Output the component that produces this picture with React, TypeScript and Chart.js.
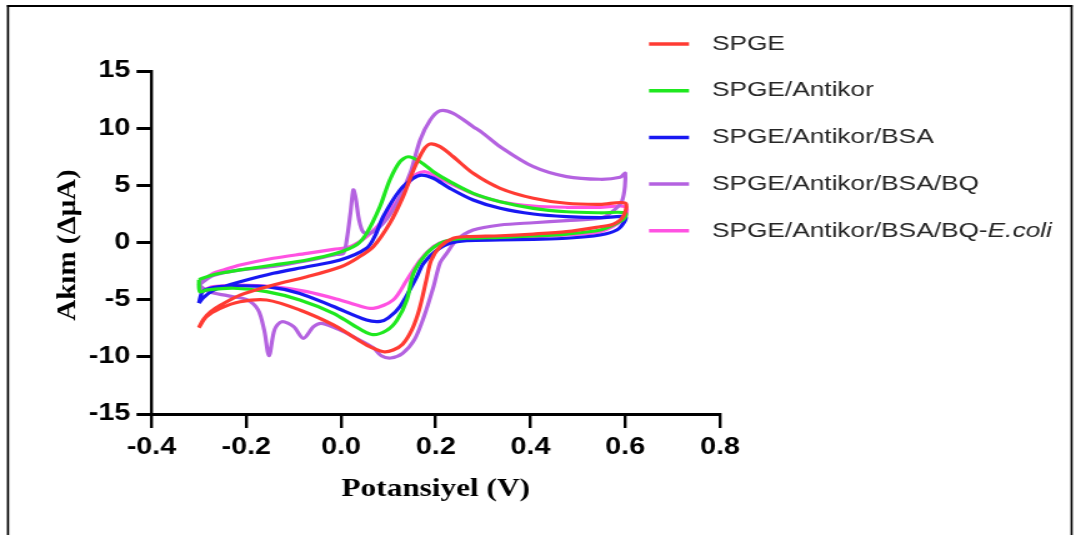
import { useEffect, useRef } from "react";
import { Chart, registerables } from "chart.js";

Chart.register(...registerables);

// Series labels and colours (legend order)
const seriesNames = [
  "SPGE",
  "SPGE/Antikor",
  "SPGE/Antikor/BSA",
  "SPGE/Antikor/BSA/BQ",
  "SPGE/Antikor/BSA/BQ-E.coli",
];
const seriesColors = ["#ff3b33", "#1fe81f", "#1818f2", "#b462e0", "#ff52e2"];

// Axis ticks
const xTicks = [-0.4, -0.2, 0.0, 0.2, 0.4, 0.6, 0.8];
const yTicks = [-15, -10, -5, 0, 5, 10, 15];

// Cyclic voltammograms: potential (V) and current (µA), forward scan then reverse scan
const spgeV = [-0.300, -0.290, -0.275, -0.255, -0.213, -0.143, -0.072, 0.000, 0.035, 0.068, 0.103, 0.131, 0.153, 0.174, 0.188, 0.209, 0.237, 0.279, 0.336, 0.406, 0.476, 0.547, 0.600,
  0.596, 0.575, 0.547, 0.476, 0.406, 0.336, 0.265, 0.237, 0.209, 0.190, 0.180, 0.165, 0.150, 0.130, 0.110, 0.090, 0.054, 0.020, -0.016, -0.087, -0.157, -0.213, -0.255, -0.284, -0.300];
const spgeI = [-7.45, -6.70, -6.05, -5.50, -4.60, -3.72, -3.00, -2.12, -1.35, -0.37, 1.68, 4.01, 6.34, 8.09, 8.62, 8.38, 7.50, 6.05, 4.74, 3.87, 3.43, 3.34, 3.45,
  2.30, 1.60, 1.38, 0.95, 0.74, 0.59, 0.51, 0.37, -0.37, -1.60, -3.30, -5.90, -7.60, -8.90, -9.40, -9.55, -8.97, -8.10, -7.20, -5.90, -5.03, -5.18, -5.76, -6.49, -7.45];

const antikorV = [-0.300, -0.280, -0.250, -0.213, -0.143, -0.072, -0.010, 0.033, 0.054, 0.082, 0.103, 0.1245, 0.142, 0.167, 0.195, 0.230, 0.279, 0.336, 0.406, 0.476, 0.547, 0.600,
  0.598, 0.582, 0.547, 0.476, 0.406, 0.336, 0.265, 0.230, 0.209, 0.181, 0.153, 0.139, 0.118, 0.096, 0.065, 0.025, -0.016, -0.087, -0.157, -0.227, -0.283, -0.298, -0.300];
const antikorI = [-3.25, -2.95, -2.65, -2.40, -1.97, -1.53, -0.95, -0.20, 0.80, 3.13, 5.47, 7.07, 7.50, 7.07, 6.19, 5.32, 4.30, 3.57, 2.99, 2.69, 2.60, 2.60,
  2.10, 1.68, 1.09, 0.74, 0.57, 0.45, 0.37, 0.22, -0.07, -0.95, -2.69, -5.03, -6.80, -7.70, -8.05, -7.20, -6.19, -5.03, -4.30, -4.00, -4.15, -4.30, -3.25];

const bsaV = [-0.300, -0.290, -0.270, -0.248, -0.213, -0.143, -0.072, -0.002, 0.054, 0.072, 0.089, 0.1245, 0.1526, 0.170, 0.195, 0.230, 0.279, 0.336, 0.406, 0.476, 0.547, 0.600,
  0.598, 0.582, 0.547, 0.476, 0.406, 0.336, 0.265, 0.230, 0.202, 0.174, 0.160, 0.1245, 0.100, 0.083, 0.054, -0.016, -0.087, -0.157, -0.227, -0.270, -0.292, -0.300];
const bsaI = [-5.30, -4.80, -4.20, -3.86, -3.43, -2.69, -2.12, -1.53, -0.50, 0.60, 2.26, 4.59, 5.62, 5.90, 5.62, 4.74, 3.72, 2.99, 2.49, 2.26, 2.17, 2.26,
  1.80, 1.09, 0.66, 0.37, 0.28, 0.22, 0.16, -0.07, -0.66, -1.82, -3.00, -5.60, -6.60, -6.90, -6.78, -5.60, -4.45, -3.86, -3.80, -3.95, -4.30, -5.30];

const bqV = [-0.300, -0.270, -0.213, -0.143, -0.072, -0.010, 0.005, 0.012, 0.020, 0.026, 0.031, 0.038, 0.047, 0.061, 0.089, 0.1175, 0.146, 0.167, 0.188, 0.209, 0.237, 0.279, 0.300, 0.336, 0.406, 0.476, 0.547, 0.589, 0.600,
  0.593, 0.568, 0.547, 0.476, 0.406, 0.336, 0.279, 0.244, 0.223, 0.209, 0.195, 0.175, 0.155, 0.130, 0.105, 0.085, 0.068, 0.033, -0.005, -0.041, -0.058, -0.0795, -0.100, -0.125, -0.140, -0.152, -0.162, -0.175, -0.199, -0.240, -0.280, -0.300];
const bqI = [-3.70, -2.90, -2.40, -2.10, -1.60, -1.05, -0.95, 0.20, 2.60, 4.60, 3.90, 2.00, 0.90, 0.80, 1.68, 3.43, 6.05, 8.97, 10.70, 11.53, 11.30, 10.13, 9.55, 8.38, 6.63, 5.76, 5.53, 5.70, 6.05,
  3.60, 2.55, 2.12, 1.91, 1.73, 1.53, 1.09, 0.22, -0.95, -1.80, -3.90, -6.50, -8.50, -9.70, -10.10, -9.90, -9.20, -8.40, -7.60, -7.07, -7.36, -8.38, -7.36, -6.93, -7.60, -9.90, -7.70, -5.90, -5.00, -4.65, -4.30, -3.70];

const ecoliV = [-0.300, -0.270, -0.248, -0.213, -0.143, -0.072, -0.016, 0.019, 0.054, 0.089, 0.1245, 0.1526, 0.174, 0.195, 0.237, 0.286, 0.336, 0.406, 0.476, 0.547, 0.600,
  0.598, 0.547, 0.476, 0.406, 0.336, 0.265, 0.216, 0.195, 0.167, 0.139, 0.110, 0.068, 0.033, -0.002, -0.072, -0.143, -0.213, -0.270, -0.294, -0.300];
const ecoliI = [-3.60, -2.70, -2.40, -1.97, -1.38, -0.95, -0.60, -0.37, 0.51, 1.97, 4.00, 5.76, 6.19, 5.90, 5.03, 4.15, 3.57, 3.19, 3.08, 3.08, 3.13,
  2.10, 0.94, 0.66, 0.51, 0.42, 0.31, 0.07, -0.37, -1.53, -3.28, -5.03, -5.76, -5.47, -5.03, -4.30, -3.86, -3.72, -3.86, -4.15, -3.60];

const potentials = [spgeV, antikorV, bsaV, bqV, ecoliV];
const currents = [spgeI, antikorI, bsaI, bqI, ecoliI];

// Canvas geometry: drawn narrower and widened by CSS (the figure is horizontally stretched)
const OUT_W = 1081;
const OUT_H = 535;
const CW = 865;
const SX = OUT_W / CW;
const PLOT_LEFT = 151.5 / SX;
const PLOT_RIGHT = 720 / SX;
const PLOT_TOP = 71;
const PLOT_BOTTOM = 414;
const Y_AXIS_W = 100;
const X_AXIS_H = 100;

const SANS = "'Liberation Sans', Arial, Helvetica, sans-serif";
const SERIF = "'Liberation Serif', 'Times New Roman', Times, serif";

const framePlugin = {
  id: "figureFrame",
  beforeDraw(chart: any) {
    const ctx = chart.ctx as CanvasRenderingContext2D;
    ctx.save();
    ctx.strokeStyle = "#000";
    ctx.lineWidth = 2;
    ctx.beginPath();
    ctx.moveTo(7 / SX, 6);
    ctx.lineTo(1072.5 / SX, 6);
    ctx.stroke();
    ctx.lineWidth = 1.7;
    ctx.beginPath();
    ctx.moveTo(8 / SX, 5);
    ctx.lineTo(8 / SX, OUT_H);
    ctx.moveTo(1071.6 / SX, 5);
    ctx.lineTo(1071.6 / SX, OUT_H);
    ctx.stroke();
    ctx.restore();
  },
};

const yTitlePlugin = {
  id: "yTitle",
  afterDraw(chart: any) {
    const ctx = chart.ctx as CanvasRenderingContext2D;
    ctx.save();
    ctx.translate(68.5 / SX, 245);
    ctx.rotate(-Math.PI / 2);
    ctx.scale(1, 0.7);
    ctx.font = `bold 29px ${SERIF}`;
    ctx.fillStyle = "#000";
    ctx.textAlign = "center";
    ctx.textBaseline = "middle";
    ctx.fillText("Akım (ΔμA)", 0, 0);
    ctx.restore();
  },
};

const legendPlugin = {
  id: "sideLegend",
  afterDraw(chart: any) {
    const ctx = chart.ctx as CanvasRenderingContext2D;
    const lineX0 = 649 / SX;
    const lineX1 = 689 / SX;
    const textX = 712 / SX;
    const top = 44;
    const step = 46.7;
    ctx.save();
    chart.data.datasets.forEach((ds: any, i: number) => {
      const y = top + i * step;
      ctx.strokeStyle = ds.borderColor;
      ctx.lineWidth = 3.5;
      ctx.beginPath();
      ctx.moveTo(lineX0, y);
      ctx.lineTo(lineX1, y);
      ctx.stroke();
      ctx.fillStyle = "#262626";
      ctx.textAlign = "left";
      ctx.textBaseline = "middle";
      const label: string = ds.label;
      const italicPart = "E.coli";
      if (label.endsWith(italicPart)) {
        const head = label.slice(0, label.length - italicPart.length);
        ctx.font = `21px ${SANS}`;
        ctx.fillText(head, textX, y);
        const w = ctx.measureText(head).width;
        ctx.font = `italic 21px ${SANS}`;
        ctx.fillText(italicPart, textX + w, y);
      } else {
        ctx.font = `21px ${SANS}`;
        ctx.fillText(label, textX, y);
      }
    });
    ctx.restore();
  },
};

export default function App() {
  const canvasRef = useRef<HTMLCanvasElement | null>(null);

  useEffect(() => {
    const canvas = canvasRef.current;
    if (!canvas) return;

    const datasets = seriesNames.map((name, i) => ({
      label: name,
      data: potentials[i].map((v, k) => ({ x: v, y: currents[i][k] })),
      borderColor: seriesColors[i],
      backgroundColor: seriesColors[i],
      showLine: true,
      fill: false,
      borderWidth: 3.2,
      pointRadius: 0,
      tension: 0.3,
    }));

    const chart = new Chart(canvas, {
      type: "scatter",
      data: { datasets },
      options: {
        responsive: false,
        animation: false,
        devicePixelRatio: 1,
        events: [],
        layout: {
          padding: {
            left: PLOT_LEFT - Y_AXIS_W,
            right: CW - PLOT_RIGHT,
            top: PLOT_TOP,
            bottom: OUT_H - PLOT_BOTTOM - X_AXIS_H,
          },
        },
        plugins: {
          legend: { display: false },
          tooltip: { enabled: false },
        },
        scales: {
          x: {
            type: "linear",
            min: xTicks[0],
            max: xTicks[xTicks.length - 1],
            afterFit: (s: any) => {
              s.height = X_AXIS_H;
            },
            afterBuildTicks: (s: any) => {
              s.ticks = xTicks.map((v) => ({ value: v }));
            },
            ticks: {
              callback: (v: any) => Number(v).toFixed(1),
              color: "#000",
              font: { family: SANS, size: 23, weight: "bold" },
              padding: 6,
              maxRotation: 0,
              autoSkip: false,
            },
            grid: {
              drawOnChartArea: false,
              drawTicks: true,
              tickLength: 14,
              color: "#000",
              lineWidth: 2.4,
            },
            border: { display: true, color: "#000", width: 3 },
            title: {
              display: true,
              text: "Potansiyel (V)",
              color: "#000",
              font: { family: SERIF, size: 25, weight: "bold" },
              padding: { top: 0, bottom: 9 },
            },
          },
          y: {
            type: "linear",
            min: yTicks[0],
            max: yTicks[yTicks.length - 1],
            afterFit: (s: any) => {
              s.width = Y_AXIS_W;
            },
            afterBuildTicks: (s: any) => {
              s.ticks = yTicks.map((v) => ({ value: v }));
            },
            ticks: {
              callback: (v: any) => String(v),
              color: "#000",
              font: { family: SANS, size: 23, weight: "bold" },
              padding: 5,
              autoSkip: false,
            },
            grid: {
              drawOnChartArea: false,
              drawTicks: true,
              tickLength: 12,
              color: "#000",
              lineWidth: 3,
            },
            border: { display: true, color: "#000", width: 2.4 },
            title: { display: false },
          },
        },
      },
      plugins: [framePlugin, yTitlePlugin, legendPlugin],
    } as any);

    return () => chart.destroy();
  }, []);

  return (
    <div
      style={{
        position: "absolute",
        left: 0,
        top: 0,
        width: OUT_W,
        height: OUT_H,
        background: "#fff",
        overflow: "hidden",
      }}
    >
      <canvas
        ref={canvasRef}
        width={CW}
        height={OUT_H}
        style={{ width: `${OUT_W}px`, height: `${OUT_H}px`, display: "block" }}
      />
    </div>
  );
}
